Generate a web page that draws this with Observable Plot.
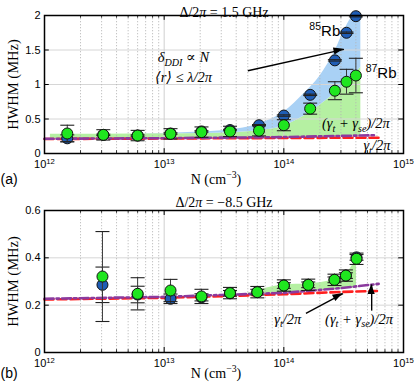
<!DOCTYPE html>
<html><head><meta charset="utf-8">
<script src="https://cdn.jsdelivr.net/npm/d3@7"></script>
<script src="https://cdn.jsdelivr.net/npm/@observablehq/plot@0.6"></script>
<style>body{margin:0;background:#fff} #chart svg{display:block}</style>
</head><body><div id="chart"></div>
<script>
// ---------- Panel (a): Δ/2π = 1.5 GHz ----------
const N_a      = [1.55e12, 3.1e12, 6e12, 1.13e13, 2.05e13, 3.55e13, 6.2e13, 1.0e14, 1.66e14, 2.67e14, 3.34e14, 4.0e14];
const rb85_a   = [0.22, 0.27, 0.26, 0.29, 0.32, 0.34, 0.41, 0.55, 0.85, 1.35, 1.75, 1.99];
const rb85e_a  = [0.05, 0.01, 0.01, 0.01, 0.01, 0.01, 0.01, 0.01, 0.01, 0.01, 0.01, 0.01];
const rb87_a   = [0.29, 0.27, 0.26, 0.285, 0.31, 0.32, 0.33, 0.41, 0.65, 0.91, 1.04, 1.13];
const rb87e_a  = [0.12, 0.075, 0.075, 0.075, 0.075, 0.075, 0.075, 0.08, 0.08, 0.13, 0.18, 0.25];
const fillN_a     = [1.12e12, 3e12, 1e13, 2e13, 3.5e13, 6e13, 1e14, 1.5e14, 2e14, 2.7e14, 3.3e14, 3.9e14, 4.4e14];
const fillLow_a   = [0.214, 0.217, 0.222, 0.226, 0.229, 0.233, 0.238, 0.242, 0.246, 0.25, 0.253, 0.256, 0.258];
const fillGreen_a = [0.28, 0.28, 0.285, 0.29, 0.30, 0.33, 0.40, 0.55, 0.70, 0.88, 1.02, 1.15, 1.25];
const fillBlue_a  = [0.28, 0.28, 0.29, 0.31, 0.34, 0.42, 0.60, 0.88, 1.12, 1.50, 1.83, 2.0, 2.0];
const purpleN_a = [1e12, 1e13, 1e14, 3e14, 5.9e14];
const purple_a  = [0.213, 0.222, 0.238, 0.255, 0.265];
const redN_a    = [1e12, 1e13, 1e14, 3e14, 6.2e14];
const red_a     = [0.21, 0.217, 0.225, 0.228, 0.229];
const yTicks_a  = [0, 0.5, 1, 1.5, 2];

// ---------- Panel (b): Δ/2π = −8.5 GHz ----------
const N_b      = [3.05e12, 6e12, 1.13e13, 2.05e13, 3.55e13, 6e13, 1.0e14, 1.6e14, 2.65e14, 3.3e14, 4.05e14];
const rb85_b   = [0.286, 0.245, 0.227, 0.233, 0.25, 0.255, 0.283, 0.286, 0.307, 0.325, 0.402];
const rb85e_b  = [0.075, 0.035, 0.02, 0.015, 0.012, 0.012, 0.012, 0.012, 0.012, 0.012, 0.012];
const rb87_b   = [0.321, 0.248, 0.262, 0.237, 0.251, 0.255, 0.283, 0.286, 0.307, 0.325, 0.396];
const rb87e_b  = [0.19, 0.068, 0.047, 0.03, 0.024, 0.024, 0.024, 0.024, 0.024, 0.024, 0.024];
const fillN_b     = [5e13, 1e14, 1.6e14, 2.65e14, 3.3e14, 4.05e14];
const fillLow_b   = [0.247, 0.252, 0.258, 0.266, 0.27, 0.274];
const fillGreen_b = [0.25, 0.285, 0.29, 0.31, 0.33, 0.40];
const purpleN_b = [1e12, 1e13, 1e14, 3e14, 6.2e14];
const purple_b  = [0.227, 0.235, 0.252, 0.272, 0.29];
const redN_b    = [1e12, 1e13, 1e14, 3e14, 6e14];
const red_b     = [0.224, 0.231, 0.246, 0.256, 0.26];
const yTicks_b  = [0, 0.2, 0.4, 0.6];

const xTicks = [1e12, 1e13, 1e14, 1e15];

// ---------- Annotations (data coordinates) ----------
const notes_a = [
  {n: 1.45e13, v: 1.39, t: "δ_{DDI} ∝ N", anchor: "start"},
  {n: 1.45e13, v: 1.10, t: "⟨r⟩ ≤ λ/2π", anchor: "start"},
  {n: 4.0e14, v: 0.435, t: "(γ_{t} + γ_{se})/2π", anchor: "middle"},
  {n: 6.0e14, v: 0.115, t: "γ_{t}/2π", anchor: "middle"}
];
const rbLabels_a = [
  {n: 2.2e14, v: 1.77, t: "^{85}Rb"},
  {n: 6.5e14, v: 1.16, t: "^{87}Rb"}
];
const arrows_a = [{n1: 5.0e13, v1: 1.20, n2: 3.18e14, v2: 1.51}];
const notes_b = [
  {n: 1.08e14, v: 0.142, t: "γ_{t}/2π", anchor: "middle"},
  {n: 4.25e14, v: 0.142, t: "(γ_{t} + γ_{se})/2π", anchor: "middle"}
];
const arrows_b = [
  {n1: 1.53e14, v1: 0.165, n2: 3.12e14, v2: 0.249},
  {n1: 5.42e14, v1: 0.177, n2: 5.42e14, v2: 0.287}
];

const SERIF = "'Liberation Serif', 'DejaVu Serif', serif";
const SANS = "'Liberation Sans', Arial, sans-serif";
const BLUE = "#1f5db5", GREEN = "#1fe61f";
const capSymbol = {draw(ctx, size) { const h = Math.sqrt(size / Math.PI); ctx.moveTo(-h, 0); ctx.lineTo(h, 0); }};

function rows(...cols) { return cols[0].map((_, i) => cols.map(c => c[i])); }

function richify(svg) {
  svg.querySelectorAll("text").forEach(t => {
    const s = t.textContent;
    if (!/[\^_~]\{/.test(s)) return;
    const fs = parseFloat(getComputedStyle(t).fontSize) || 11;
    const parts = s.split(/([\^_~]\{[^}]*\})/).filter(p => p.length);
    while (t.firstChild) t.removeChild(t.firstChild);
    let shift = 0;
    for (const p of parts) {
      const ts = document.createElementNS("http://www.w3.org/2000/svg", "tspan");
      let txt = p, target = 0;
      if (/^[\^_~]\{/.test(p)) {
        txt = p.slice(2, -1);
        if (p[0] === "^") { target = -0.42 * fs; ts.setAttribute("font-size", (0.7 * fs) + "px"); }
        else if (p[0] === "_") { target = 0.25 * fs; ts.setAttribute("font-size", (0.7 * fs) + "px"); }
        else ts.setAttribute("font-style", "italic");
      }
      const d = target - shift;
      if (d) ts.setAttribute("dy", d);
      shift = target;
      ts.textContent = txt;
      t.appendChild(ts);
    }
  });
}

// filled arrowheads placed through the plot's own scales
function arrowHeads(svg, arrows) {
  const sx = svg.scale("x"), sy = svg.scale("y");
  const g = d3.select(svg).append("g").attr("fill", "black");
  for (const a of arrows) {
    const x1 = sx.apply(a.n1), y1 = sy.apply(a.v1), x2 = sx.apply(a.n2), y2 = sy.apply(a.v2);
    const ang = Math.atan2(y2 - y1, x2 - x1);
    const L = 10, W = 3.6;
    const bx = x2 - L * Math.cos(ang), by = y2 - L * Math.sin(ang);
    const px = -Math.sin(ang) * W, py = Math.cos(ang) * W;
    g.append("path").attr("d", `M${x2},${y2}L${bx + px},${by + py}L${bx - px},${by - py}Z`);
  }
}

function panel(c) {
  const minor = [];
  for (let e = 12; e < 15; e++) for (let m = 2; m <= 9; m++) minor.push(m * 10 ** e);
  const [y0, y1] = c.yDomain;
  const tkMaj = (y1 - y0) * 0.035, tkMin = (y1 - y0) * 0.02;
  const p85 = rows(c.N, c.rb85, c.rb85e).map(([n, v, e]) => ({n, v, e}));
  const p87 = rows(c.N, c.rb87, c.rb87e).map(([n, v, e]) => ({n, v, e}));
  const fill = rows(c.fillN, c.fillLow, c.fillGreen, c.fillBlue || c.fillGreen).map(([n, lo, g, b]) => ({n, lo, g, b}));
  const purple = rows(c.purpleN, c.purple).map(([n, v]) => ({n, v}));
  const red = rows(c.redN, c.red).map(([n, v]) => ({n, v}));
  const errMarks = (pts) => [
    Plot.ruleX(pts, {x: "n", y1: d => d.v - d.e, y2: d => d.v + d.e, stroke: "#3a3a3a", strokeWidth: 1}),
    Plot.dot(pts, {x: "n", y: d => d.v - d.e, symbol: capSymbol, r: 7, stroke: "#222", strokeWidth: 1.1, fill: "none"}),
    Plot.dot(pts, {x: "n", y: d => d.v + d.e, symbol: capSymbol, r: 7, stroke: "#222", strokeWidth: 1.1, fill: "none"})
  ];
  const svg = Plot.plot({
    width: 415, height: c.height,
    marginLeft: 44, marginRight: 12, marginTop: c.mt, marginBottom: c.mb,
    x: {type: "log", domain: [1e12, 1e15]},
    y: {domain: c.yDomain},
    style: {fontFamily: SANS, fontSize: "11px", background: "white", overflow: "visible"},
    marks: [
      Plot.areaY(fill, {x: "n", y1: "lo", y2: "g", fill: "#b5f0a2", curve: "monotone-x"}),
      c.fillBlue ? Plot.areaY(fill, {x: "n", y1: "g", y2: "b", fill: "#a9d1f5", curve: "monotone-x"}) : null,
      Plot.ruleY(c.yTicks.slice(1, -1), {stroke: "#d6d6d6", strokeWidth: 1}),
      Plot.ruleX([1e13, 1e14], {stroke: "#cfcfcf", strokeWidth: 1}),
      Plot.ruleX(minor, {stroke: "#b4b4b4", strokeWidth: 0.8, strokeDasharray: "1.3,1.7"}),
      // inward ticks
      Plot.ruleX(minor, {y1: y0, y2: y0 + tkMin, stroke: "black", strokeWidth: 0.8}),
      Plot.ruleX(minor, {y1: y1, y2: y1 - tkMin, stroke: "black", strokeWidth: 0.8}),
      Plot.ruleX(xTicks, {y1: y0, y2: y0 + tkMaj, stroke: "black", strokeWidth: 1}),
      Plot.ruleX(xTicks, {y1: y1, y2: y1 - tkMaj, stroke: "black", strokeWidth: 1}),
      Plot.ruleY(c.yTicks, {x1: 1e12, x2: 1e12 * 10 ** 0.04, stroke: "black", strokeWidth: 1}),
      Plot.ruleY(c.yTicks, {x1: 1e15, x2: 1e15 / 10 ** 0.04, stroke: "black", strokeWidth: 1}),
      // model lines
      Plot.line(red, {x: "n", y: "v", stroke: "#ff1f1f", strokeWidth: 2.6, strokeDasharray: "9,4"}),
      Plot.line(purple, {x: "n", y: "v", stroke: "#8b3a9e", strokeWidth: 2.6, strokeDasharray: "9,3,2.5,3"}),
      // data
      Plot.dot(p85, {x: "n", y: "v", r: 5.5, fill: BLUE, stroke: "#111", strokeWidth: 1}),
      ...errMarks(p85),
      ...errMarks(p87),
      Plot.dot(p87, {x: "n", y: "v", r: 5.5, fill: GREEN, stroke: "#111", strokeWidth: 1}),
      Plot.frame({stroke: "black", strokeWidth: 1.5}),
      Plot.axisY({ticks: c.yTicks, tickSize: 0, tickPadding: 4, fontSize: 11, tickFormat: d => String(d)}),
      Plot.axisX({ticks: xTicks, tickSize: 0, tickPadding: 7, fontSize: 11, tickFormat: d => "10^{" + Math.round(Math.log10(d)) + "}"}),
      // annotations
      Plot.link(c.arrows, {x1: "n1", y1: "v1", x2: "n2", y2: "v2", stroke: "black", strokeWidth: 1.4}),
      Plot.text(c.notes, {x: "n", y: "v", text: "t", textAnchor: d => d.anchor, fontFamily: SERIF, fontSize: 14.5, fontStyle: "italic", fill: "black"}),
      c.rbLabels ? Plot.text(c.rbLabels, {x: "n", y: "v", text: "t", fontFamily: SANS, fontSize: 15, fill: "black"}) : null,
      Plot.text([c.title], {frameAnchor: "top", dy: c.titleDy, fontFamily: SERIF, fontSize: 14, fill: "black"}),
      Plot.text(["N (cm^{−3})"], {frameAnchor: "bottom", dy: c.xlabDy, dx: -8, fontFamily: SERIF, fontSize: 14, fill: "black"}),
      Plot.text(["HWHM (MHz)"], {frameAnchor: "left", textAnchor: "middle", rotate: -90, dx: -31, fontFamily: SERIF, fontSize: 14.5, fill: "black"}),
      Plot.text([c.tag], {frameAnchor: "bottom-left", dx: -44, dy: c.xlabDy, textAnchor: "start", fontFamily: SANS, fontSize: 14, fill: "black"})
    ].filter(Boolean)
  });
  arrowHeads(svg, c.arrows);
  return svg;
}

const root = document.getElementById("chart");
const svgA = panel({
  height: 192, mt: 15, mb: 39, yDomain: [0, 2], yTicks: yTicks_a,
  N: N_a, rb85: rb85_a, rb85e: rb85e_a, rb87: rb87_a, rb87e: rb87e_a,
  fillN: fillN_a, fillLow: fillLow_a, fillGreen: fillGreen_a, fillBlue: fillBlue_a,
  purpleN: purpleN_a, purple: purple_a, redN: redN_a, red: red_a,
  notes: notes_a, rbLabels: rbLabels_a, arrows: arrows_a,
  title: "Δ/2~{π} = 1.5 GHz", titleDy: -8, xlabDy: 30, tag: "(a)"
});
const svgB = panel({
  height: 193, mt: 18, mb: 33, yDomain: [0, 0.6], yTicks: yTicks_b,
  N: N_b, rb85: rb85_b, rb85e: rb85e_b, rb87: rb87_b, rb87e: rb87e_b,
  fillN: fillN_b, fillLow: fillLow_b, fillGreen: fillGreen_b, fillBlue: null,
  purpleN: purpleN_b, purple: purple_b, redN: redN_b, red: red_b,
  notes: notes_b, rbLabels: null, arrows: arrows_b,
  title: "Δ/2~{π} = −8.5 GHz", titleDy: -13, xlabDy: 25, tag: "(b)"
});
root.appendChild(svgA);
root.appendChild(svgB);
richify(svgA);
richify(svgB);
</script>
</body></html>
